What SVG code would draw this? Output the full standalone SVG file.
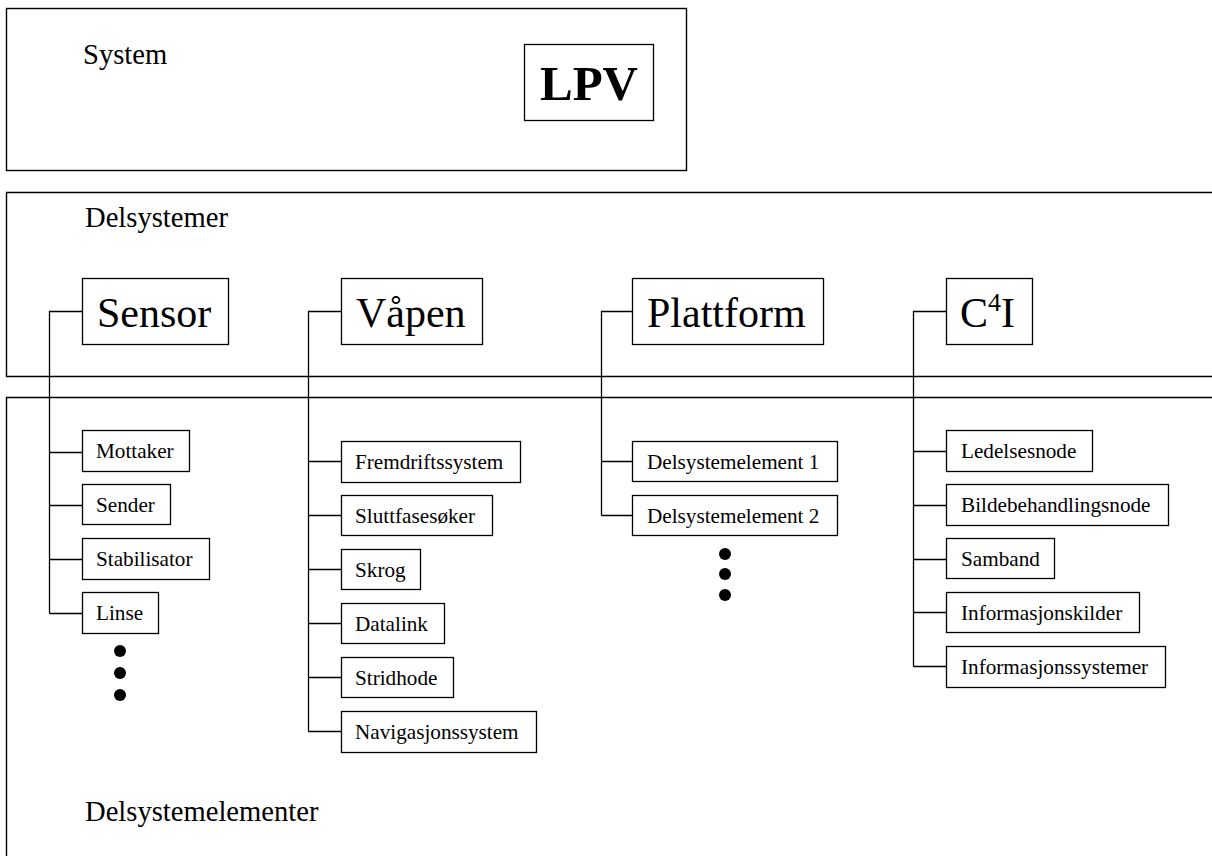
<svg xmlns="http://www.w3.org/2000/svg" width="1212" height="856" viewBox="0 0 1212 856">
<style>
.frame{fill:none;stroke:#000;stroke-width:1.4}
.box{fill:#fff;stroke:#000;stroke-width:1.3}
.conn{fill:none;stroke:#000;stroke-width:1.3}
.lbl{font-family:"Liberation Serif","Times New Roman",serif;fill:#000}
.big{font-size:28.6px}
.sub{font-size:42px}
.el{font-size:21.2px}
.dot{fill:#000}
</style>
<rect width="1212" height="856" fill="#fff"/>
<g id="frames">
<rect class="frame" x="6.5" y="8.5" width="680" height="162"/>
<path class="frame" d="M1212,192.5 H6.5 V376.5 H1212"/>
<path class="frame" d="M1212,397.5 H6.5 V856"/>
<text class="lbl big" x="83" y="64">System</text>
<text class="lbl big" x="85" y="227">Delsystemer</text>
<text class="lbl big" x="85" y="821">Delsystemelementer</text>
</g>
<g id="connectors">
<path class="conn" d="M82,311.5 H49.5 V613.5 M49.5,452.5 H82 M49.5,505.5 H82 M49.5,559.5 H82 M49.5,613.5 H82"/>
<path class="conn" d="M341,311.5 H308.5 V731.5 M308.5,461.5 H341 M308.5,515.5 H341 M308.5,569.5 H341 M308.5,623.5 H341 M308.5,677.5 H341 M308.5,731.5 H341"/>
<path class="conn" d="M632,311.5 H601.5 V515.5 M601.5,461.5 H632 M601.5,515.5 H632"/>
<path class="conn" d="M946,311.5 H913.5 V666.5 M913.5,451.5 H946 M913.5,505.5 H946 M913.5,559.5 H946 M913.5,612.5 H946 M913.5,666.5 H946"/>
</g>
<g id="lpv">
<rect class="box" x="524.5" y="44.5" width="129" height="76"/>
<text class="lbl" x="589" y="100" font-size="49" font-weight="bold" text-anchor="middle">LPV</text>
</g>
<g id="sensor">
<rect class="box" x="82.5" y="278.5" width="146" height="66"/>
<text class="lbl sub" x="97" y="327">Sensor</text>
</g>
<g id="vapen">
<rect class="box" x="341.5" y="278.5" width="141" height="66"/>
<text class="lbl sub" x="356" y="327">Våpen</text>
</g>
<g id="plattform">
<rect class="box" x="632.5" y="278.5" width="191" height="66"/>
<text class="lbl sub" x="647" y="327">Plattform</text>
</g>
<g id="c4i">
<rect class="box" x="946.5" y="278.5" width="86" height="66"/>
<text class="lbl sub" x="960" y="327">C<tspan font-size="26" dy="-16">4</tspan><tspan dy="16">I</tspan></text>
</g>
<g id="mottaker"><rect class="box" x="82.5" y="430.5" width="107" height="41"/><text class="lbl el" x="96" y="458">Mottaker</text></g>
<g id="sender"><rect class="box" x="82.5" y="484.5" width="88" height="40"/><text class="lbl el" x="96" y="512">Sender</text></g>
<g id="stabilisator"><rect class="box" x="82.5" y="538.5" width="127" height="41"/><text class="lbl el" x="96" y="566">Stabilisator</text></g>
<g id="linse"><rect class="box" x="82.5" y="592.5" width="76" height="41"/><text class="lbl el" x="96" y="620">Linse</text></g>
<g id="sensor-more">
<circle class="dot" cx="120" cy="651" r="6"/><circle class="dot" cx="120" cy="673" r="6"/><circle class="dot" cx="120" cy="695" r="6"/>
</g>
<g id="fremdriftssystem"><rect class="box" x="341.5" y="441.5" width="179" height="41"/><text class="lbl el" x="355" y="469">Fremdriftssystem</text></g>
<g id="sluttfasesoker"><rect class="box" x="341.5" y="495.5" width="151" height="40"/><text class="lbl el" x="355" y="523">Sluttfasesøker</text></g>
<g id="skrog"><rect class="box" x="341.5" y="549.5" width="79" height="40"/><text class="lbl el" x="355" y="577">Skrog</text></g>
<g id="datalink"><rect class="box" x="341.5" y="603.5" width="103" height="40"/><text class="lbl el" x="355" y="631">Datalink</text></g>
<g id="stridhode"><rect class="box" x="341.5" y="657.5" width="112" height="40"/><text class="lbl el" x="355" y="685">Stridhode</text></g>
<g id="navigasjonssystem"><rect class="box" x="341.5" y="711.5" width="195" height="41"/><text class="lbl el" x="355" y="739">Navigasjonssystem</text></g>
<g id="delsystemelement1"><rect class="box" x="632.5" y="441.5" width="205" height="40"/><text class="lbl el" x="647" y="469">Delsystemelement 1</text></g>
<g id="delsystemelement2"><rect class="box" x="632.5" y="495.5" width="205" height="40"/><text class="lbl el" x="647" y="523">Delsystemelement 2</text></g>
<g id="plattform-more">
<circle class="dot" cx="725" cy="554" r="6"/><circle class="dot" cx="725" cy="574" r="6"/><circle class="dot" cx="725" cy="595" r="6"/>
</g>
<g id="ledelsesnode"><rect class="box" x="946.5" y="430.5" width="146" height="41"/><text class="lbl el" x="961" y="458">Ledelsesnode</text></g>
<g id="bildebehandlingsnode"><rect class="box" x="946.5" y="484.5" width="222" height="41"/><text class="lbl el" x="961" y="512">Bildebehandlingsnode</text></g>
<g id="samband"><rect class="box" x="946.5" y="538.5" width="108" height="40"/><text class="lbl el" x="961" y="566">Samband</text></g>
<g id="informasjonskilder"><rect class="box" x="946.5" y="592.5" width="193" height="40"/><text class="lbl el" x="961" y="620">Informasjonskilder</text></g>
<g id="informasjonssystemer"><rect class="box" x="946.5" y="646.5" width="219" height="41"/><text class="lbl el" x="961" y="674">Informasjonssystemer</text></g>
</svg>
